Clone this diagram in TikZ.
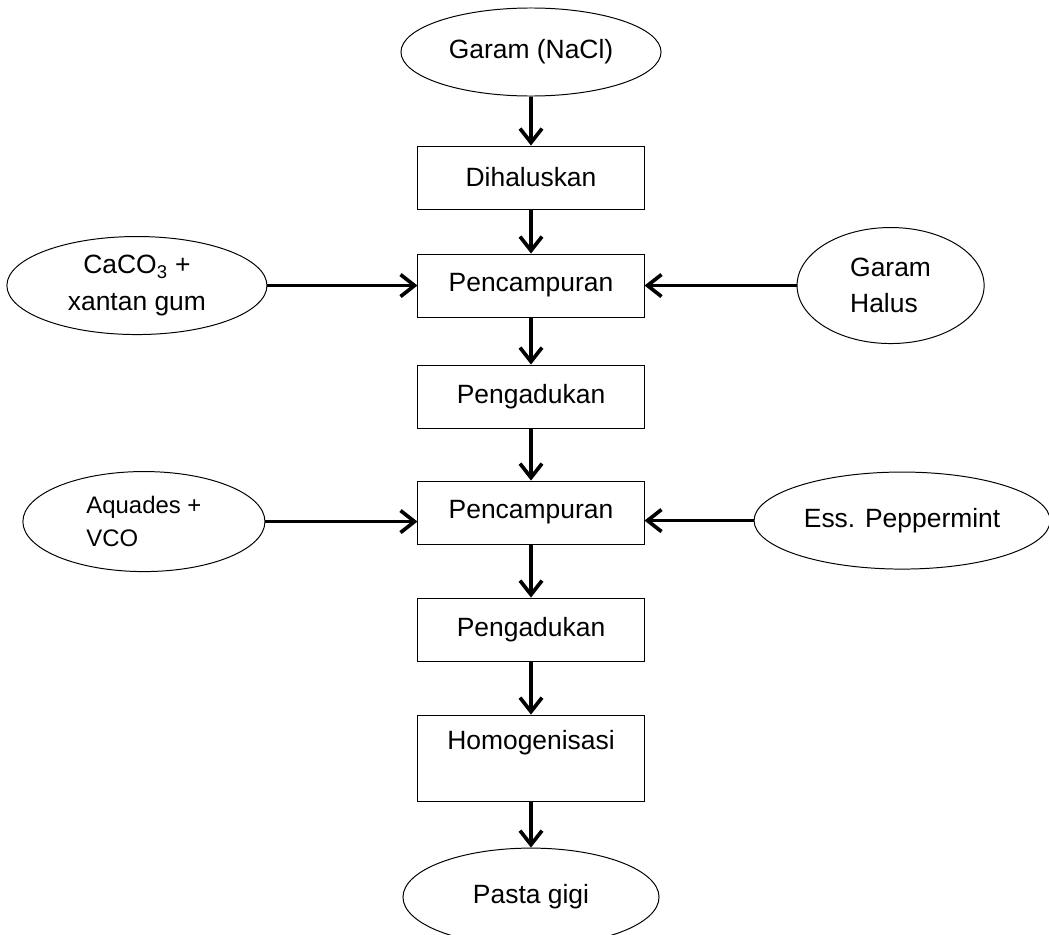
\documentclass[tikz,border=0pt]{standalone}
\usepackage{fontspec}
\setmainfont{Liberation Sans}
\usetikzlibrary{positioning,shapes.geometric,arrows.meta}

\begin{document}
\begin{tikzpicture}[x=0.025cm,y=-0.025cm]
                \tikzstyle{every node}=[font=\fontsize{18.8}{26}\selectfont]
                \tikzstyle{proses}=[draw, rectangle, line width=0.7pt, minimum width=5.65cm, minimum height=1.575cm, inner sep=0pt]
                \tikzstyle{bahan}=[draw, ellipse, line width=0.7pt, inner sep=0pt]
                \tikzstyle{panah}=[-{Straight Barb[length=3.5mm,width=5.5mm]}, line width=2.6pt]
                \useasboundingbox (0,0) rectangle (1049,934);
                \node (garam)   [bahan, minimum width=6.5cm, minimum height=2.2cm] at (531,52)  { Garam (NaCl) };
                \node (halus)   [proses, below=1.225cm of garam]                                 { Dihaluskan };
                \node (campur1) [proses, below=1.1cm of halus]                                   { Pencampuran };
                \node (aduk1)   [proses, below=1.175cm of campur1]                               { Pengadukan };
                \node (campur2) [proses, below=1.3cm of aduk1]                                   { Pencampuran };
                \node (aduk2)   [proses, below=1.325cm of campur2]                               { Pengadukan };
                \node (homogen) [proses, below=1.325cm of aduk2, minimum height=2.15cm, align=center] { Homogenisasi \\ ~ };
                \node (pasta)   [bahan, below=1.15cm of homogen, minimum width=6.4cm, minimum height=2.45cm] { Pasta gigi };
                \node (caco)    [bahan, left=3.75cm of campur1, minimum width=6.5cm, minimum height=2.45cm, align=center] { CaCO\textsubscript{3} + \\ xantan gum };
                \node (ghalus)  [bahan, right=3.8cm of campur1, minimum width=4.675cm, minimum height=2.9cm, align=left] { Garam \\ Halus };
                \node (aquades) [bahan, left=3.8cm of campur2, yshift=-0.225cm, minimum width=6.05cm, minimum height=2.5cm, align=left, font=\fontsize{17}{23.4}\selectfont] { Aquades + \\ VCO };
                \node (ess)     [bahan, right=2.725cm of campur2, yshift=-0.2cm, minimum width=7.4cm, minimum height=2.425cm] { Ess. Peppermint };
                \draw[panah] (garam)   -- (halus);
                \draw[panah] (halus)   -- (campur1);
                \draw[panah] (caco)    -- (campur1);
                \draw[panah] (ghalus)  -- (campur1);
                \draw[panah] (campur1) -- (aduk1);
                \draw[panah] (aduk1)   -- (campur2);
                \draw[panah] (aquades) -- (aquades -| campur2.west);
                \draw[panah] (ess)     -- (ess -| campur2.east);
                \draw[panah] (campur2) -- (aduk2);
                \draw[panah] (aduk2)   -- (homogen);
                \draw[panah] (homogen) -- (pasta);
            \end{tikzpicture}
\end{document}
